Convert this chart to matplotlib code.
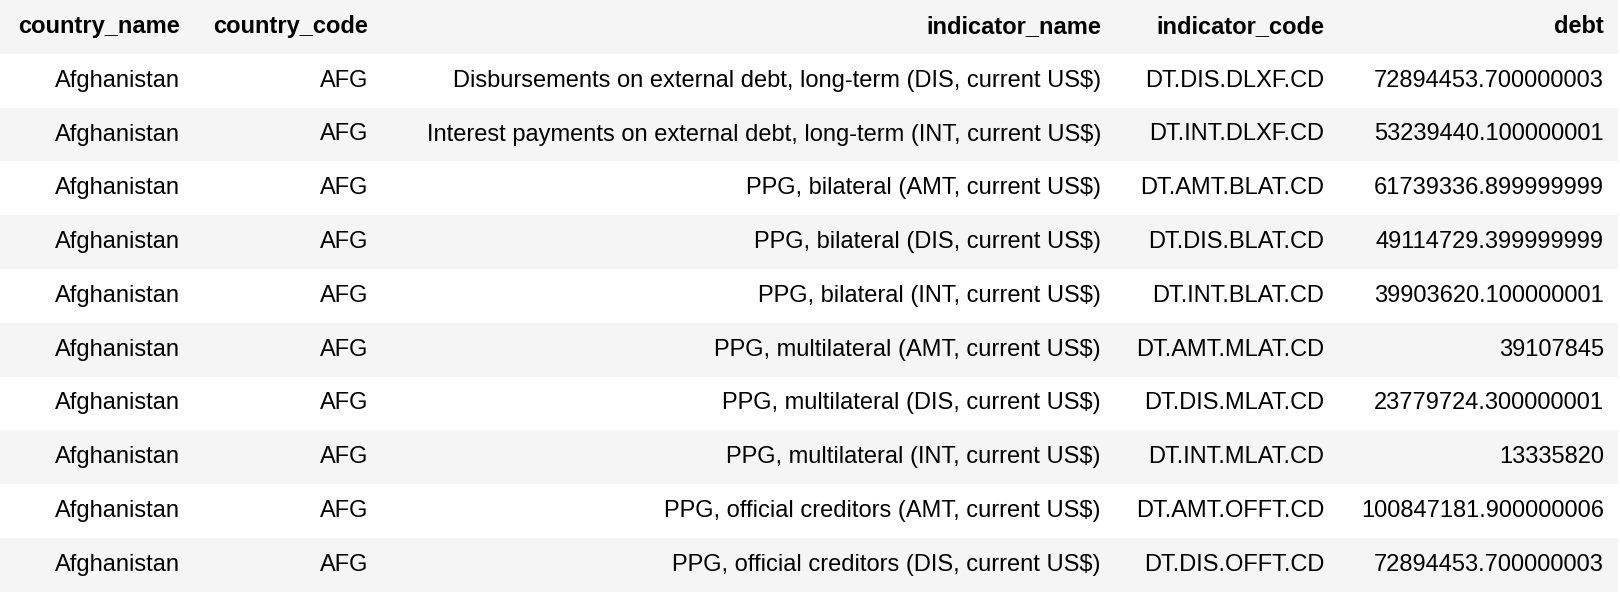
import matplotlib
matplotlib.use("Agg")
import matplotlib.pyplot as plt
from matplotlib.patches import Rectangle

columns = ["country_name", "country_code", "indicator_name", "indicator_code", "debt"]
country_name = ["Afghanistan"] * 10
country_code = ["AFG"] * 10
indicator_name = [
    "Disbursements on external debt, long-term (DIS, current US$)",
    "Interest payments on external debt, long-term (INT, current US$)",
    "PPG, bilateral (AMT, current US$)",
    "PPG, bilateral (DIS, current US$)",
    "PPG, bilateral (INT, current US$)",
    "PPG, multilateral (AMT, current US$)",
    "PPG, multilateral (DIS, current US$)",
    "PPG, multilateral (INT, current US$)",
    "PPG, official creditors (AMT, current US$)",
    "PPG, official creditors (DIS, current US$)",
]
indicator_code = ["DT.DIS.DLXF.CD", "DT.INT.DLXF.CD", "DT.AMT.BLAT.CD", "DT.DIS.BLAT.CD",
                  "DT.INT.BLAT.CD", "DT.AMT.MLAT.CD", "DT.DIS.MLAT.CD", "DT.INT.MLAT.CD",
                  "DT.AMT.OFFT.CD", "DT.DIS.OFFT.CD"]
debt = ["72894453.700000003", "53239440.100000001", "61739336.899999999", "49114729.399999999",
        "39903620.100000001", "39107845", "23779724.300000001", "13335820",
        "100847181.900000006", "72894453.700000003"]

W, H = 1620, 594
fig = plt.figure(figsize=(W / 100, H / 100), dpi=100)
ax = fig.add_axes([0, 0, 1, 1])
ax.set_xlim(0, W)
ax.set_ylim(H, 0)
ax.axis("off")

right_edges = [180, 368, 1101, 1324, 1604]
row_h = 53.8
table_w = 1618
font = "Liberation Sans"
fs = 17

rows = list(zip(country_name, country_code, indicator_name, indicator_code, debt))
all_rows = [columns] + rows
for i, r in enumerate(all_rows):
    y0 = i * row_h
    if i % 2 == 0:
        ax.add_patch(Rectangle((0, y0), table_w, row_h, color="#f5f5f5", lw=0))
    for x, t in zip(right_edges, r):
        ax.text(x, y0 + row_h / 2, t, ha="right", va="center", fontsize=fs,
                family=font, weight="bold" if i == 0 else "normal", color="black")

fig.savefig("out.png", dpi=100)
